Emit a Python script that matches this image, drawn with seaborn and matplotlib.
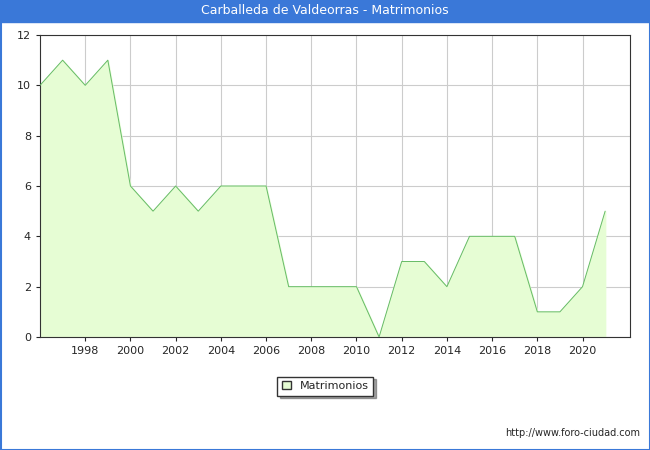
import matplotlib
matplotlib.use("Agg")
import matplotlib.pyplot as plt
import seaborn as sns
import pandas as pd
from matplotlib.patches import Patch

years = list(range(1996, 2022))
values = [10, 11, 10, 11, 6, 5, 6, 5, 6, 6, 6, 2, 2, 2, 2, 0, 3, 3, 2, 4, 4, 4, 1, 1, 2, 5]
df = pd.DataFrame({"year": years, "Matrimonios": values})

sns.set_style("white")
plt.rcParams['font.family'] = ['DejaVu Sans']

fig = plt.figure(figsize=(6.5, 4.5), dpi=100)
fig.patch.set_facecolor("white")
ax = fig.add_axes([40 / 650, 1 - 337 / 450, 590 / 650, 302 / 450])

ax.fill_between(df["year"], df["Matrimonios"], color="#e6fdd4", zorder=2)
sns.lineplot(data=df, x="year", y="Matrimonios", color="#66bb66", linewidth=0.7, ax=ax, zorder=3)

ax.set_xlim(1996, 2022.1)
ax.set_ylim(0, 12)
ax.set_xticks(range(1998, 2021, 2))
ax.set_yticks(range(0, 13, 2))
ax.grid(True, color="#cccccc", linewidth=0.8, zorder=0)
ax.set_axisbelow(True)
ax.set_xlabel("")
ax.set_ylabel("")
ax.tick_params(labelsize=8, length=3, left=True, bottom=True)
for s in ax.spines.values():
    s.set_color("#333333")
    s.set_linewidth(0.8)

# title bar
fig.patches.append(plt.Rectangle((0, 1 - 22 / 450), 1, 22 / 450, transform=fig.transFigure,
                                 color="#3a78d8", zorder=0))
fig.text(0.5, 1 - 11 / 450, "Carballeda de Valdeorras - Matrimonios", color="white",
         ha="center", va="center", fontsize=9)
fig.patches.append(plt.Rectangle((0.5 / 650, 0.5 / 450), 649 / 650, 449 / 450, transform=fig.transFigure,
                                 fill=False, edgecolor="#3a78d8", linewidth=1.5))

fig.legend(handles=[Patch(facecolor="#e6fdd4", edgecolor="#333333", label="Matrimonios")],
           loc="center", bbox_to_anchor=(325 / 650, 1 - 386 / 450), fontsize=8,
           fancybox=False, shadow=True, edgecolor="#333333", handlelength=0.8, handleheight=0.8)

fig.text(640 / 650, 1 - 433 / 450, "http://www.foro-ciudad.com", ha="right", va="center", fontsize=7)

fig.savefig("out.png", dpi=100)
